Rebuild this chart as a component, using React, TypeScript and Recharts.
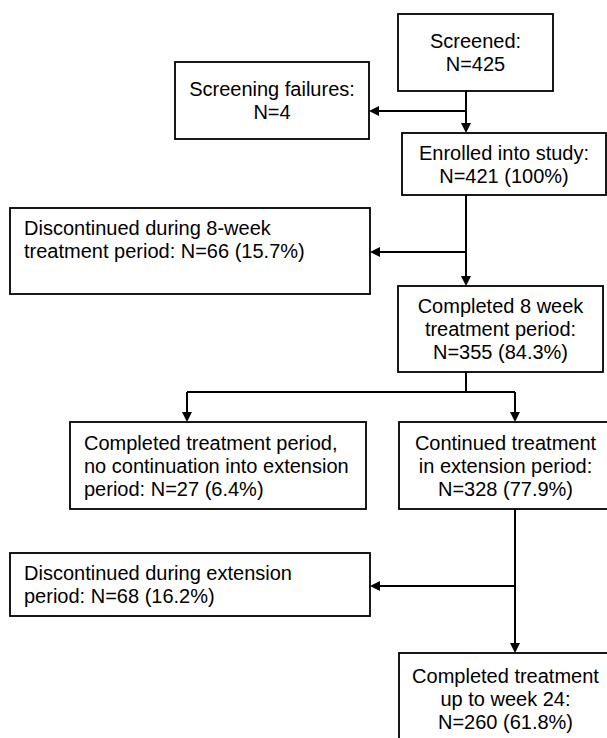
import { ComposedChart, XAxis, YAxis, ReferenceArea, ReferenceLine, Scatter } from 'recharts'

const W = 607
const H = 738
const FONT = 'Arial, "Liberation Sans", Helvetica, sans-serif'

// box texts, one entry per node
const nodeText: string[][] = [
  ['Screened:', 'N=425'],
  ['Screening failures:', 'N=4'],
  ['Enrolled into study:', 'N=421 (100%)'],
  ['Discontinued during 8-week', 'treatment period: N=66 (15.7%)', ''],
  ['Completed 8 week', 'treatment period:', 'N=355 (84.3%)'],
  ['Completed treatment period,', 'no continuation into extension', 'period: N=27 (6.4%)'],
  ['Continued treatment', 'in extension period:', 'N=328 (77.9%)'],
  ['Discontinued during extension', 'period: N=68 (16.2%)'],
  ['Completed treatment', 'up to week 24:', 'N=260 (61.8%)'],
]
const nodeAlign = ['middle', 'middle', 'middle', 'start', 'middle', 'start', 'middle', 'start', 'middle']

// layout in chart units: [left, right, top, bottom]
const nodeBox: [number, number, number, number][] = [
  [398, 553, 14, 91],
  [175, 369, 62, 139],
  [402, 606, 133, 195],
  [10, 370, 208, 294],
  [398, 603, 286, 372],
  [70, 366, 422, 509],
  [399, 612, 422, 509],
  [10, 370, 553, 616],
  [399, 612, 653, 745],
]

// connectors: [x1, y1, x2, y2, arrow]
const links: [number, number, number, number, boolean][] = [
  [466, 91, 466, 133, true],
  [466, 111, 369, 111, true],
  [466, 195, 466, 286, true],
  [466, 252, 370, 252, true],
  [466, 372, 466, 392, false],
  [187, 392, 515, 392, false],
  [187, 392, 187, 422, true],
  [515, 392, 515, 422, true],
  [515, 509, 515, 653, true],
  [515, 586, 370, 586, true],
]

const anchors = nodeBox.map((b) => ({ x: (b[0] + b[1]) / 2, y: (b[2] + b[3]) / 2 }))

const LINE_H = 23

function makeBoxShape(lines: string[], align: string) {
  return (p: any) => {
    const { x, y, width, height } = p
    const cy = y + height / 2
    const start = cy - ((lines.length - 1) * LINE_H) / 2
    const tx = align === 'start' ? x + 14 : x + width / 2
    return (
      <g>
        <rect x={x} y={y} width={width} height={height} fill="#fff" stroke="#000" strokeWidth={1.8} />
        {lines.map((t, i) => (
          <text
            key={i}
            x={tx}
            y={start + i * LINE_H}
            textAnchor={align}
            dominantBaseline="central"
            fontFamily={FONT}
            fontSize={20}
            fill="#000"
          >
            {t}
          </text>
        ))}
      </g>
    )
  }
}

function makeLinkShape(arrow: boolean) {
  return (p: any) => {
    const { x1, y1, x2, y2 } = p
    const dx = x2 - x1
    const dy = y2 - y1
    const len = Math.sqrt(dx * dx + dy * dy) || 1
    const ux = dx / len
    const uy = dy / len
    const hl = 10
    const hw = 5
    const bx = x2 - ux * hl
    const by = y2 - uy * hl
    return (
      <g>
        <line x1={x1} y1={y1} x2={arrow ? bx : x2} y2={arrow ? by : y2} stroke="#000" strokeWidth={2} />
        {arrow && (
          <polygon
            points={`${x2},${y2} ${bx - uy * hw},${by + ux * hw} ${bx + uy * hw},${by - ux * hw}`}
            fill="#000"
          />
        )}
      </g>
    )
  }
}

export default function App() {
  return (
    <div style={{ position: 'absolute', left: 0, top: 0, width: W, height: H, background: '#fff' }}>
      <ComposedChart width={W} height={H} margin={{ top: 0, right: 0, bottom: 0, left: 0 }}>
        <XAxis type="number" dataKey="x" domain={[0, W]} hide allowDataOverflow />
        <YAxis type="number" dataKey="y" domain={[0, H]} reversed hide allowDataOverflow />
        <Scatter data={anchors} shape={() => <g />} isAnimationActive={false} />
        {links.map((l, i) => (
          <ReferenceLine
            key={`l${i}`}
            segment={[{ x: l[0], y: l[1] }, { x: l[2], y: l[3] }]}
            ifOverflow="visible"
            shape={makeLinkShape(l[4])}
          />
        ))}
        {nodeBox.map((b, i) => (
          <ReferenceArea
            key={`n${i}`}
            x1={b[0]}
            x2={b[1]}
            y1={b[2]}
            y2={b[3]}
            ifOverflow="visible"
            shape={makeBoxShape(nodeText[i], nodeAlign[i])}
          />
        ))}
      </ComposedChart>
    </div>
  )
}
